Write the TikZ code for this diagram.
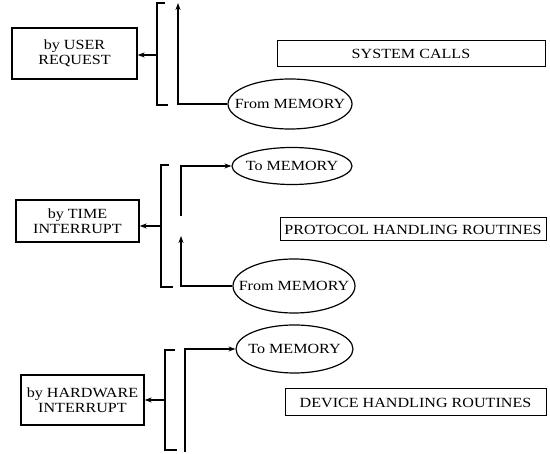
\documentclass[tikz,border=0pt]{standalone}
\usepackage{fontspec}
\setmainfont[FakeStretch=1.15]{Liberation Serif}
\usetikzlibrary{shapes.geometric, arrows.meta, positioning}
\tikzset{
  % scatola a sinistra (chi attiva la routine)
  box/.style={draw, line width=1.3pt, inner sep=0pt, align=center,
    font=\fontsize{14}{15}\selectfont},
  % scatola a destra (gruppo di routine)
  group/.style={draw, line width=1pt, inner sep=0pt,
    font=\fontsize{14}{15}\selectfont},
  % ellisse della memoria
  mem/.style={ellipse, draw, line width=1.2pt, inner sep=0pt},
  memtxt/.style={font=\fontsize{14}{15}\selectfont},
  % tratti
  wire/.style={line width=1.3pt},
  msg/.style={-{Stealth[length=7pt, width=5pt]}, line width=1.3pt},
}

\begin{document}
\begin{tikzpicture}[x=1pt, y=-1pt]
  \useasboundingbox (0,0) rectangle (550,454);
  % richiesta dell'utente
  \node[box, minimum width=125pt, minimum height=51pt] (user) at (74.5,53.5) {by USER\\REQUEST};
  \node[group, minimum width=268pt, minimum height=26pt] (sys) at (411,54) {SYSTEM CALLS};
  \node[mem, minimum width=124pt, minimum height=50pt,
    label={[memtxt]center:From MEMORY}] (from1) at (290,104) {};
  \draw[wire] (165,3) -- (157,3) -- (157,105) -- (168,105);
  \coordinate (b1) at (157,55);
  \coordinate (up1) at (178,3);
  \draw[msg] (b1) -- (b1 -| user.east);
  \draw[msg] (from1.west) -| (up1);
  % interruzione a tempo
  \node[box, minimum width=123pt, minimum height=42pt] (time) at (77.5,221) {by TIME\\INTERRUPT};
  \node[group, minimum width=266pt, minimum height=23pt] (proto) at (413,229.5) {PROTOCOL HANDLING ROUTINES};
  \node[mem, minimum width=120pt, minimum height=37pt,
    label={[memtxt]center:To MEMORY}] (to2) at (292,166) {};
  \node[mem, minimum width=122pt, minimum height=54pt,
    label={[memtxt]center:From MEMORY}] (from2) at (294,286) {};
  \draw[wire] (169,165) -- (161,165) -- (161,287) -- (173,287);
  \coordinate (b2) at (161,226);
  \coordinate (s2) at (181,216);
  \coordinate (up2) at (181,236);
  \draw[msg] (b2) -- (b2 -| time.east);
  \draw[msg] (s2) |- (to2.west);
  \draw[msg] (from2.west) -| (up2);
  % interruzione hardware
  \node[box, minimum width=123pt, minimum height=50pt] (hw) at (82.5,400) {by HARDWARE\\INTERRUPT};
  \node[group, minimum width=261pt, minimum height=27pt] (dev) at (415.5,402.5) {DEVICE HANDLING ROUTINES};
  \node[mem, minimum width=117pt, minimum height=48pt,
    label={[memtxt]center:To MEMORY}] (to3) at (294.5,349) {};
  \draw[wire] (175,350) -- (165,350) -- (165,450) -- (177,450);
  \coordinate (b3) at (165,400);
  \coordinate (s3) at (185,452);
  \draw[msg] (b3) -- (b3 -| hw.east);
  \draw[msg] (s3) |- (to3.west);
\end{tikzpicture}
\end{document}
